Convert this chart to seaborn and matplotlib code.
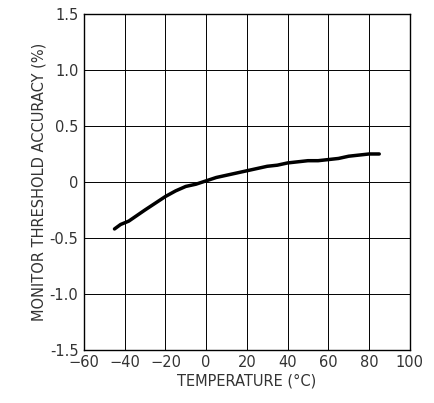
import matplotlib
matplotlib.use("Agg")
import matplotlib.pyplot as plt
import seaborn as sns
import pandas as pd

# temperature (C) vs monitor threshold accuracy (%)
temp = [-45, -42, -38, -34, -30, -25, -20, -15, -10, -5, 0, 5, 10, 15, 20, 25, 30,
        35, 40, 45, 50, 55, 60, 65, 70, 75, 80, 85]
accuracy = [-0.42, -0.38, -0.35, -0.30, -0.25, -0.19, -0.13, -0.08, -0.04, -0.02, 0.01,
            0.04, 0.06, 0.08, 0.10, 0.12, 0.14, 0.15, 0.17, 0.18, 0.19, 0.19, 0.20,
            0.21, 0.23, 0.24, 0.25, 0.25]
xticks = [-60, -40, -20, 0, 20, 40, 60, 80, 100]
yticks = [-1.5, -1.0, -0.5, 0, 0.5, 1.0, 1.5]
ylabels = ["-1.5", "-1.0", "-0.5", "0", "0.5", "1.0", "1.5"]

sns.set_style("white")
plt.rcParams['font.family'] = ['Liberation Sans Narrow', 'DejaVu Sans']

fig = plt.figure(figsize=(4.35, 4.03), dpi=100)
ax = fig.add_axes([0.193, 0.132, 0.749, 0.833])
df = pd.DataFrame({"t": temp, "a": accuracy})
sns.lineplot(data=df, x="t", y="a", ax=ax, color="black", linewidth=2.5)

ax.set_xlim(-60, 100)
ax.set_ylim(-1.5, 1.5)
ax.set_xticks(xticks)
ax.set_yticks(yticks)
ax.set_yticklabels(ylabels)
ax.grid(True, color="black", linewidth=0.7)
for s in ax.spines.values():
    s.set_color("black")
    s.set_linewidth(1)
ax.tick_params(labelsize=10.5, length=0, pad=4, colors="#333333")
ax.set_xlabel("TEMPERATURE (\u00b0C)", fontsize=10.5, labelpad=2, color="#333333")
ax.set_ylabel("MONITOR THRESHOLD ACCURACY (%)", fontsize=10.5, labelpad=2, color="#333333")

fig.savefig("out.png", dpi=100)
